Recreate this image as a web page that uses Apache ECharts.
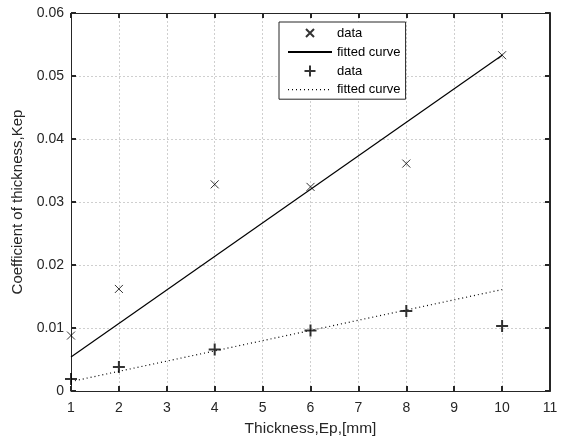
<!DOCTYPE html>
<html>
<head>
<meta charset="utf-8">
<script src="https://cdn.jsdelivr.net/npm/echarts@6/dist/echarts.min.js"></script>
<style>
  html, body { margin: 0; padding: 0; background: #fff; }
  #chart { width: 571px; height: 443px; }
</style>
</head>
<body>
<div id="chart"></div>
<script>
// measured points (x marks and + marks)
const thickness = [1, 2, 4, 6, 8, 10];
const kepCross = [0.0088, 0.0162, 0.0328, 0.0324, 0.0361, 0.0533];
const kepPlus = [0.0019, 0.0038, 0.0066, 0.0096, 0.0127, 0.0103];

// fitted lines, end points only
const fitX = [1, 10];
const fitCross = [0.0054, 0.0533];
const fitPlus = [0.0015, 0.0161];

const legendLabels = ['data', 'fitted curve', 'data', 'fitted curve'];

const pair = (xs, ys) => xs.map((x, i) => [x, ys[i]]);

const FONT = 'Liberation Sans, Arial, sans-serif';
const TXT = '#262626';

const chart = echarts.init(document.getElementById('chart'), null, { renderer: 'canvas' });

const gridLine = { show: true, lineStyle: { color: '#cfcfcf', type: [2, 2], width: 1 } };
const lineIcon = 'path://M0,0M44,14M0,7L44,7';

chart.setOption({
  animation: false,
  backgroundColor: '#fff',
  grid: { left: 71, right: 21, top: 13, bottom: 52 },
  legend: {
    orient: 'vertical',
    left: 279,
    top: 22,
    padding: [3, 5, 2, 8],
    itemGap: 3,
    itemWidth: 44,
    itemHeight: 14,
    backgroundColor: '#fff',
    borderColor: '#262626',
    borderWidth: 1,
    borderRadius: 0,
    textStyle: { fontFamily: FONT, fontSize: 13, color: '#000' },
    formatter: name => legendLabels[Number(name.slice(1))],
    data: [
      { name: 's0', icon: 'path://M0,0M14,14M3,3L11,11M11,3L3,11' },
      { name: 's1', icon: lineIcon },
      { name: 's2', icon: 'path://M0,0M14,14M1.5,7L12.5,7M7,1.5L7,12.5' },
      { name: 's3', icon: lineIcon, itemStyle: { borderType: [1, 3], borderWidth: 1.2, borderColor: '#000' } }
    ]
  },
  xAxis: [{
    type: 'value', min: 1, max: 11, interval: 1,
    name: 'Thickness,Ep,[mm]', nameLocation: 'middle', nameGap: 30,
    nameTextStyle: { fontFamily: FONT, fontSize: 15.5, color: TXT },
    axisLine: { show: true, onZero: false, lineStyle: { color: '#262626', width: 1 } },
    axisTick: { show: true, inside: true, length: 5, lineStyle: { color: '#262626', width: 2 } },
    axisLabel: { fontFamily: FONT, fontSize: 14, color: TXT, margin: 10 },
    splitLine: gridLine
  }, {
    type: 'value', min: 1, max: 11, interval: 1, position: 'top',
    axisLine: { show: true, onZero: false, lineStyle: { color: '#262626', width: 1 } },
    axisTick: { show: true, inside: true, length: 5, lineStyle: { color: '#262626', width: 2 } },
    axisLabel: { show: false },
    splitLine: { show: false }
  }],
  yAxis: [{
    type: 'value', min: 0, max: 0.06, interval: 0.01,
    name: 'Coefficient of thickness,Kep', nameLocation: 'middle', nameGap: 41,
    nameTextStyle: { fontFamily: FONT, fontSize: 15, color: TXT },
    axisLine: { show: true, onZero: false, lineStyle: { color: '#262626', width: 1 } },
    axisTick: { show: true, inside: true, length: 5, lineStyle: { color: '#262626', width: 2 } },
    axisLabel: {
      fontFamily: FONT, fontSize: 14, color: TXT, margin: 7,
      formatter: v => v === 0 ? '0' : v.toFixed(2)
    },
    splitLine: gridLine
  }, {
    type: 'value', min: 0, max: 0.06, interval: 0.01, position: 'right',
    axisLine: { show: true, onZero: false, lineStyle: { color: '#262626', width: 2 } },
    axisTick: { show: true, inside: true, length: 5, lineStyle: { color: '#262626', width: 2 } },
    axisLabel: { show: false },
    splitLine: { show: false }
  }],
  series: [
    {
      name: 's0', type: 'scatter', data: pair(thickness, kepCross),
      symbol: 'path://M0,0L10,10M10,0L0,10', symbolSize: 8,
      itemStyle: { color: '#000', borderColor: '#000', borderWidth: 1 }, z: 5
    },
    {
      name: 's1', type: 'line', data: pair(fitX, fitCross),
      symbol: 'none', showSymbol: false,
      lineStyle: { color: '#000', width: 1.2 },
      itemStyle: { color: '#000', borderColor: '#000', borderWidth: 1.2 }
    },
    {
      name: 's2', type: 'scatter', data: pair(thickness, kepPlus),
      symbol: 'path://M0,5L10,5M5,0L5,10', symbolSize: 12,
      itemStyle: { color: '#000', borderColor: '#000', borderWidth: 2 }, z: 5
    },
    {
      name: 's3', type: 'line', data: pair(fitX, fitPlus),
      symbol: 'none', showSymbol: false,
      lineStyle: { color: '#000', width: 1.2, type: [1, 3] },
      itemStyle: { color: '#000', borderColor: '#000', borderWidth: 1.2 }
    }
  ]
});
</script>
</body>
</html>
